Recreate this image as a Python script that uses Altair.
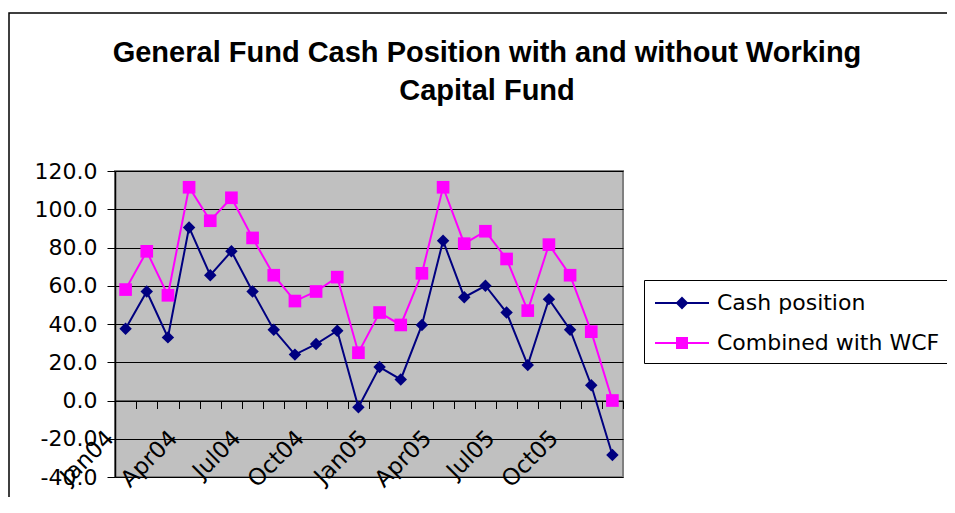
import json
import altair as alt
import pandas as pd

# ---- data ----
months = ["Jan04", "Feb04", "Mar04", "Apr04", "May04", "Jun04", "Jul04", "Aug04",
          "Sep04", "Oct04", "Nov04", "Dec04", "Jan05", "Feb05", "Mar05", "Apr05",
          "May05", "Jun05", "Jul05", "Aug05", "Sep05", "Oct05", "Nov05", "Dec05"]
cash_position = [37.5, 57.0, 33.0, 90.5, 65.5, 78.0, 57.0, 37.0, 24.0, 29.5, 36.5, -3.5,
                 17.5, 11.0, 39.5, 83.5, 54.0, 60.0, 46.0, 18.5, 53.0, 37.0, 8.0, -28.5]
combined_wcf = [58.0, 78.0, 55.0, 111.5, 94.0, 106.0, 85.0, 65.5, 52.0, 57.0, 64.5, 25.0,
                46.0, 39.5, 66.5, 111.5, 82.0, 88.5, 74.0, 47.0, 81.5, 65.5, 36.0, 0.0]
series_names = ["Cash position", "Combined with WCF"]
series_colors = ["#000080", "#FF00FF"]
series_shapes = ["diamond", "square"]
y_ticks = [-40, -20, 0, 20, 40, 60, 80, 100, 120]
title_lines = ["General Fund Cash Position with and without Working", "Capital Fund"]

rows = []
for i, m in enumerate(months):
    rows.append({"idx": i, "month": m, "series": series_names[0], "value": cash_position[i]})
for i, m in enumerate(months):
    rows.append({"idx": i, "month": m, "series": series_names[1], "value": combined_wcf[i]})
df = pd.DataFrame(rows)

# x tick positions at category boundaries; labels every third month
boundaries = [i - 0.5 for i in range(len(months) + 1)]
label_arr = [m if i % 3 == 0 else "" for i, m in enumerate(months)] + [""]
x_label_expr = json.dumps(label_arr) + "[round(datum.value + 0.5)]"

FONT = "DejaVu Sans"

x_enc = alt.X(
    "idx:Q",
    scale=alt.Scale(domain=[-0.5, len(months) - 0.5], nice=False, zero=False),
    axis=alt.Axis(
        values=boundaries, labelExpr=x_label_expr, title=None, grid=False,
        offset=-76.5, domainColor="#000000", domainWidth=1,
        tickColor="#000000", tickSize=8, tickWidth=1,
        labelAngle=-45, labelAlign="right", labelBaseline="top",
        labelPadding=18, labelOffset=-13, labelFlush=False, labelOverlap=False,
        labelBound=False, labelFont=FONT, labelFontSize=23, labelColor="#000000",
    ),
)
y_enc = alt.Y(
    "value:Q",
    scale=alt.Scale(domain=[-40, 120], nice=False, zero=False),
    axis=alt.Axis(
        values=y_ticks, title=None, grid=True, gridColor="#000000", gridWidth=1,
        labelExpr="replace(format(datum.value, '.1f'), '\u2212', '-')",
        domainColor="#000000", domainWidth=1.5, tickColor="#000000", tickSize=8,
        labelPadding=10, labelFont=FONT, labelFontSize=22, labelColor="#000000",
        labelOverlap=False, labelFlush=False, labelBound=False,
    ),
)

base = alt.Chart(df)

series_layers = []
for name, col, shp, sz in zip(series_names, series_colors, series_shapes, [155, 160]):
    sub = base.transform_filter(alt.datum.series == name)
    series_layers.append(sub.mark_line(strokeWidth=2, color=col).encode(x=x_enc, y=y_enc))
    series_layers.append(
        sub.mark_point(filled=True, opacity=1, strokeWidth=0, shape=shp, size=sz, color=col)
        .encode(x=x_enc, y=y_enc)
    )

# legend symbols: a line with the marker in its middle (legend-only layer, draws no marks)
legend_paths = [
    "M-0.889,0H3.111"
    "M1.111,-0.37L1.481,0L1.111,0.37L0.741,0Z"
    "M1.111,-0.222L1.333,0L1.111,0.222L0.889,0Z"
    "M1.111,-0.074L1.185,0L1.111,0.074L1.037,0Z",
    "M-0.889,0H3.111"
    "M0.741,-0.37H1.481V0.37H0.741Z"
    "M0.889,-0.222H1.333V0.222H0.889Z"
    "M1.037,-0.074H1.185V0.074H1.037Z",
]
legend_def = alt.Legend(title=None)
carrier = base.transform_filter("false").mark_point(filled=False, size=729, strokeWidth=2, opacity=1).encode(
    x=x_enc, y=y_enc,
    color=alt.Color("series:N", scale=alt.Scale(domain=series_names, range=series_colors), legend=legend_def),
    shape=alt.Shape("series:N", scale=alt.Scale(domain=series_names, range=legend_paths), legend=legend_def),
)

one = alt.Data(values=[{"a": 1}])

frame = alt.Chart(one).mark_rect(
    fill="transparent", stroke="#000000", strokeWidth=1.5
).encode(x=alt.value(-106), x2=alt.value(1200), y=alt.value(-158), y2=alt.value(700))

title = alt.Chart(one).mark_text(
    text=title_lines, align="center", baseline="alphabetic", lineHeight=38,
    font="Liberation Sans", fontSize=29, fontWeight="bold", color="#000000",
).encode(x=alt.value(372), y=alt.value(-109))

chart = alt.layer(frame, title, *series_layers, carrier).properties(
    width=508, height=306,
    autosize=alt.AutoSizeParams(type="none"),
    padding={"left": 107, "top": 163, "right": 324, "bottom": 20},
    background="#FFFFFF",
).configure_view(
    fill="#C0C0C0", stroke="#808080", strokeWidth=2
).configure_legend(
    orient="none", legendX=529, legendY=109, padding=8.5,
    strokeColor="#000000", fillColor="#FFFFFF", cornerRadius=0,
    labelFont=FONT, labelFontSize=22, labelColor="#000000",
    rowPadding=14, labelOffset=35.5, symbolStrokeWidth=2, symbolSize=729,
    symbolOpacity=1, labelLimit=400,
)

chart.save("out.html", embed_options={"renderer": "svg", "actions": False})
